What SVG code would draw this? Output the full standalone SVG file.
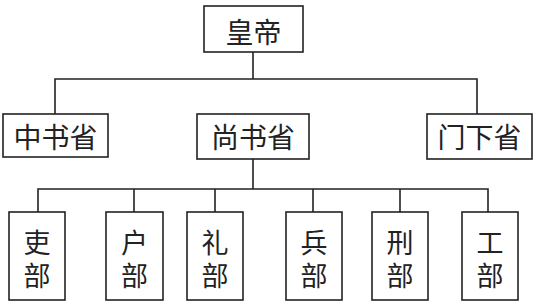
<svg xmlns="http://www.w3.org/2000/svg" width="542" height="307" viewBox="0 0 542 307">
<style>
.box{fill:#fff;stroke:#222;stroke-width:1.6}
.ln{fill:none;stroke:#222;stroke-width:1.6}
text{font-family:"Noto Sans CJK SC","Noto Sans CJK TC",sans-serif;font-size:28px;fill:#222;text-anchor:middle;dominant-baseline:central}
.v{font-size:27px;writing-mode:vertical-rl;letter-spacing:6px}
</style>
<rect width="542" height="307" fill="#fff"/>
<g id="connectors">
<path class="ln" d="M253 52V79M55 114V79H477V114M253 159V189M38 212V189H488V212M134 189V212M215 189V212M313 189V212M400 189V212"/>
</g>
<g id="huangdi"><rect class="box" x="204" y="6" width="99" height="46"/><text x="253.5" y="31">皇帝</text></g>
<g id="zhongshu"><rect class="box" x="3" y="114" width="105" height="43"/><text x="55.5" y="136">中书省</text></g>
<g id="shangshu"><rect class="box" x="197" y="114" width="112" height="45"/><text x="253" y="136">尚书省</text></g>
<g id="menxia"><rect class="box" x="427" y="114" width="105" height="45"/><text x="479.5" y="136">门下省</text></g>
<g id="libu1"><rect class="box" x="9" y="212" width="56" height="88"/><text class="v" x="37" y="262">吏部</text></g>
<g id="hubu"><rect class="box" x="106" y="212" width="57" height="88"/><text class="v" x="134.5" y="262">户部</text></g>
<g id="libu2"><rect class="box" x="187" y="212" width="56" height="88"/><text class="v" x="215" y="262">礼部</text></g>
<g id="bingbu"><rect class="box" x="286" y="212" width="56" height="88"/><text class="v" x="314" y="262">兵部</text></g>
<g id="xingbu"><rect class="box" x="372" y="212" width="56" height="88"/><text class="v" x="400" y="262">刑部</text></g>
<g id="gongbu"><rect class="box" x="462" y="212" width="56" height="88"/><text class="v" x="490" y="262">工部</text></g>
</svg>
